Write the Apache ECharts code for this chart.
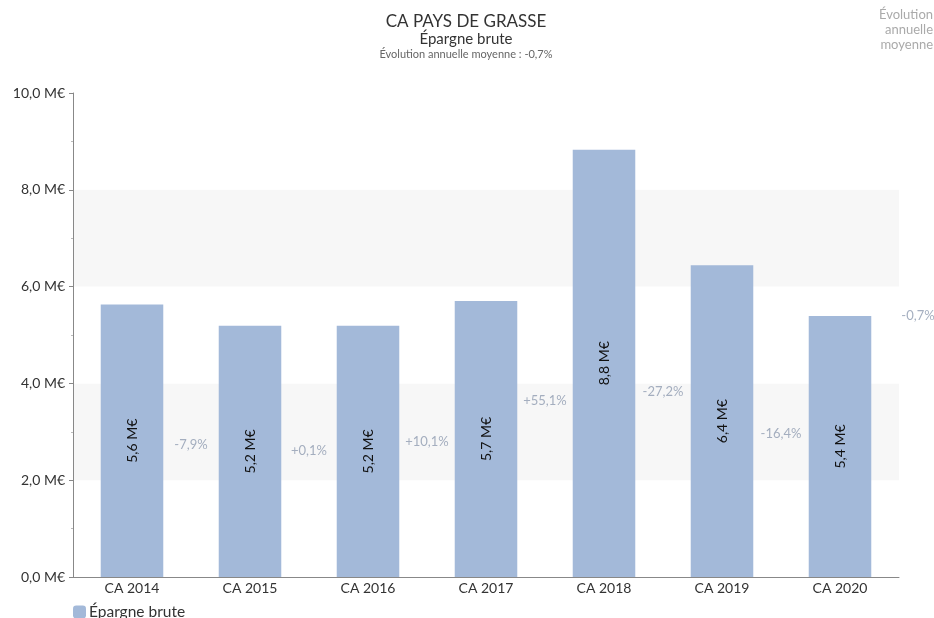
<!DOCTYPE html>
<html>
<head>
<meta charset="utf-8">
<script src="https://cdn.jsdelivr.net/npm/echarts@6/dist/echarts.min.js"></script>
<style>
  html, body { margin: 0; padding: 0; background: #fff; }
  #main { width: 934px; height: 618px; }
</style>
</head>
<body>
<div id="main"></div>
<script>
// données
var categories = ['CA 2014', 'CA 2015', 'CA 2016', 'CA 2017', 'CA 2018', 'CA 2019', 'CA 2020'];
var epargne = [5.63, 5.19, 5.19, 5.70, 8.83, 6.44, 5.39];
// évolutions entre deux années (la dernière = moyenne annuelle)
var evolLabels = ['-7,9%', '+0,1%', '+10,1%', '+55,1%', '-27,2%', '-16,4%', '-0,7%'];
var evolHeights = [2.73, 2.6, 2.8, 3.65, 3.83, 2.96, 5.39];

var fontFamily = 'Lato, "Noto Sans", sans-serif';

function fmt(v) {
    return v.toFixed(1).replace('.', ',');
}

var evolData = [];
for (var i = 0; i < evolLabels.length; i++) {
    evolData.push({
        value: [i, evolHeights[i]],
        label: {
            formatter: evolLabels[i],
            offset: i < evolLabels.length - 1 ? [59, 0] : [78, 0]
        }
    });
}

var chart = echarts.init(document.getElementById('main'));
chart.setOption({
    animation: false,
    textStyle: { fontFamily: fontFamily },
    title: [{
        text: 'CA PAYS DE GRASSE',
        subtext: 'Épargne brute',
        left: 461,
        textAlign: 'center',
        top: 8,
        itemGap: 2,
        textStyle: { fontSize: 17, fontWeight: 'normal', color: '#333', fontFamily: fontFamily },
        subtextStyle: { fontSize: 15, color: '#333', fontFamily: fontFamily }
    }, {
        text: 'Évolution annuelle moyenne : -0,7%',
        left: 461,
        textAlign: 'center',
        top: 44,
        textStyle: { fontSize: 11, fontWeight: 'normal', color: '#666', fontFamily: fontFamily }
    }, {
        text: 'Évolution\nannuelle\nmoyenne',
        left: 933,
        textAlign: 'right',
        top: 7,
        padding: 0,
        textStyle: { fontSize: 13, fontWeight: 'normal', color: '#aaa', lineHeight: 15, align: 'right', fontFamily: fontFamily }
    }],
    legend: {
        left: 68,
        top: 599,
        itemWidth: 13,
        itemHeight: 13,
        itemGap: 4,
        data: ['Épargne brute'],
        textStyle: { fontSize: 15.5, color: '#333', fontFamily: fontFamily, padding: [0, 0, 0, -2] }
    },
    grid: { left: 73, right: 35, top: 93, bottom: 41, containLabel: false },
    xAxis: [{
        type: 'category',
        data: categories,
        axisLine: { lineStyle: { color: '#888' } },
        axisTick: { show: false },
        axisLabel: { color: '#333', fontSize: 14, margin: 4 }
    }],
    yAxis: {
        type: 'value',
        min: 0,
        max: 10,
        interval: 2,
        axisLine: { show: true, lineStyle: { color: '#888' } },
        axisTick: { show: true, length: 4, lineStyle: { color: '#888' } },
        minorTick: { show: true, splitNumber: 2, length: 2, lineStyle: { color: '#bbb' } },
        splitLine: { show: false },
        splitArea: { show: true, areaStyle: { color: ['#ffffff', '#f7f7f7'] } },
        axisLabel: {
            color: '#333',
            fontSize: 14,
            margin: 8,
            formatter: function (v) { return fmt(v) + ' M€'; }
        }
    },
    series: [{
        name: 'Épargne brute',
        type: 'bar',
        data: epargne,
        barCategoryGap: '47%',
        itemStyle: { color: '#a3b9d9' },
        label: {
            show: true,
            position: 'inside',
            rotate: 90,
            color: '#111',
            fontSize: 14,
            formatter: function (p) { return fmt(p.value) + ' M€'; }
        }
    }, {
        name: 'evol',
        type: 'scatter',
        data: evolData,
        symbolSize: 0,
        silent: true,
        clip: false,
        label: {
            show: true,
            position: 'inside',
            color: '#8e9bb0',
            fontSize: 13
        }
    }]
});
</script>
</body>
</html>
